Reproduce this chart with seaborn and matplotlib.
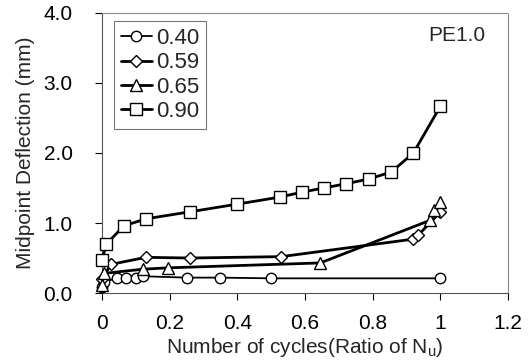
import matplotlib
matplotlib.use("Agg")
import matplotlib.pyplot as plt
import seaborn as sns
import pandas as pd

sns.set_style("ticks")
plt.rcParams['font.family'] = ['Liberation Sans', 'DejaVu Sans']

labels = ["0.40", "0.59", "0.65", "0.90"]

x_040 = [0.0, 0.005, 0.045, 0.07, 0.10, 0.12, 0.25, 0.35, 0.50, 1.0]
y_040 = [0.08, 0.16, 0.21, 0.22, 0.22, 0.24, 0.22, 0.22, 0.21, 0.21]

x_059 = [0.0, 0.027, 0.13, 0.26, 0.53, 0.92, 0.935, 1.0]
y_059 = [0.20, 0.41, 0.51, 0.50, 0.52, 0.77, 0.83, 1.16]

x_065 = [0.0, 0.005, 0.12, 0.195, 0.645, 0.97, 0.98, 1.0]
y_065 = [0.12, 0.28, 0.34, 0.36, 0.43, 1.04, 1.19, 1.30]

x_090 = [0.0, 0.013, 0.065, 0.13, 0.26, 0.40, 0.525, 0.59, 0.655, 0.72, 0.79, 0.855, 0.92, 1.0]
y_090 = [0.47, 0.70, 0.96, 1.06, 1.16, 1.27, 1.37, 1.44, 1.50, 1.56, 1.63, 1.73, 2.00, 2.67]

xticks = [0, 0.2, 0.4, 0.6, 0.8, 1.0, 1.2]
xtick_labels = ["0", "0.2", "0.4", "0.6", "0.8", "1", "1.2"]
yticks = [0.0, 1.0, 2.0, 3.0, 4.0]
ytick_labels = ["0.0", "1.0", "2.0", "3.0", "4.0"]

series = [(x_040, y_040, "o", 1.3, 7.5),
          (x_059, y_059, "D", 2.0, 6.0),
          (x_065, y_065, "^", 2.0, 8.0),
          (x_090, y_090, "s", 2.0, 8.0)]

fig = plt.figure(figsize=(5.31, 3.6), dpi=100)
ax = fig.add_axes([0.192, 0.186, 0.765, 0.778])

for (xs, ys, m, lw, ms), lab in zip(series, labels):
    df = pd.DataFrame({"x": xs, "y": ys})
    sns.lineplot(data=df, x="x", y="y", ax=ax, color="black", linewidth=lw,
                 marker=m, markersize=ms, markerfacecolor="white",
                 markeredgecolor="black", markeredgewidth=1.0,
                 sort=False, label=lab, legend=False, clip_on=False, zorder=3)

ax.set_xlim(0, 1.2)
ax.set_ylim(0, 4.0)
ax.set_xticks(xticks)
ax.set_xticklabels(xtick_labels)
ax.set_yticks(yticks)
ax.set_yticklabels(ytick_labels)
ax.tick_params(labelsize=15, length=5, width=0.8, colors="black")
ax.tick_params(axis="y", pad=16)
ax.tick_params(axis="x", pad=10)
ax.set_xlabel("Number of cycles(Ratio of N$_\\mathregular{u}$)", fontsize=15, labelpad=2)
ax.set_ylabel("Midpoint Deflection (mm)", fontsize=15, labelpad=6)
for s in ax.spines.values():
    s.set_color("#555555")
    s.set_linewidth(0.8)
for k in ("top", "right"):
    ax.spines[k].set_color("#888888")
    ax.spines[k].set_linestyle((0, (2, 1)))

ax.text(0.945, 0.92, "PE1.0", transform=ax.transAxes, fontsize=15,
        ha="right", va="center")

leg = ax.legend(loc="upper left", bbox_to_anchor=(0.03, 0.97), fontsize=16,
                frameon=True, fancybox=False, edgecolor="#555555",
                handlelength=1.4, handletextpad=0.2, borderpad=0.3,
                labelspacing=0.15, borderaxespad=0)
leg.get_frame().set_linewidth(0.8)

fig.savefig("out.png", dpi=100)
